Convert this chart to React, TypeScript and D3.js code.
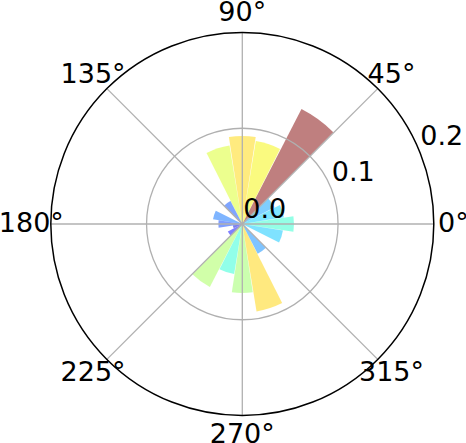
import React from "react";
import * as d3 from "d3";

// ---- data ----
const thetaDegrees = [0, 18, 36, 54, 72, 90, 108, 126, 144, 162, 180, 198, 216, 234, 252, 270, 288, 306, 324, 342];
const radii = [0.054, 0.044, 0.038, 0.135, 0.0877, 0.092, 0.083, 0.027, 0, 0.031, 0.025, 0.01, 0.017, 0.074, 0.053, 0.072, 0.0925, 0.035, 0, 0.043];
const barWidthDeg = 17.5;
const angleTicks = [0, 45, 90, 135, 180, 225, 270, 315];
const radialTicks = [0, 0.1, 0.2];
const radialMax = 0.2;

// matplotlib "jet" colormap
const jetData = {
  r: [[0, 0], [0.35, 0], [0.66, 1], [0.89, 1], [1, 0.5]],
  g: [[0, 0], [0.125, 0], [0.375, 1], [0.64, 1], [0.91, 0], [1, 0]],
  b: [[0, 0.5], [0.11, 1], [0.34, 1], [0.65, 0], [1, 0]],
};
function interpChannel(pts: number[][], t: number) {
  for (let i = 1; i < pts.length; i++) {
    if (t <= pts[i][0]) {
      const [x0, y0] = pts[i - 1];
      const [x1, y1] = pts[i];
      return y0 + ((t - x0) / (x1 - x0)) * (y1 - y0);
    }
  }
  return pts[pts.length - 1][1];
}
function jet(t: number) {
  const c = Math.max(0, Math.min(1, t));
  return d3.rgb(
    255 * interpChannel(jetData.r, c),
    255 * interpChannel(jetData.g, c),
    255 * interpChannel(jetData.b, c)
  ).formatHex();
}

const W = 466;
const H = 443;
const cx = 242.3;
const cy = 224;
const R = 191.5;
const FONT = "DejaVu Sans, sans-serif";
const FS = 27;

export default function App() {
  const rScale = d3.scaleLinear().domain([0, radialMax]).range([0, R]);
  const maxVal = d3.max(radii) as number;
  const toRad = (d: number) => (d * Math.PI) / 180;
  const arc = d3.arc<any>();
  const halfW = toRad(barWidthDeg) / 2;

  const bars = thetaDegrees.map((deg, i) => {
    const th = toRad(deg);
    const path = arc({
      innerRadius: 0,
      outerRadius: rScale(radii[i]),
      startAngle: Math.PI / 2 - (th + halfW),
      endAngle: Math.PI / 2 - (th - halfW),
    });
    return (
      <path key={"b" + i} d={path || ""} fill={jet(radii[i] / maxVal)} fillOpacity={0.5} transform={`translate(${cx},${cy})`} />
    );
  });

  const labelD = R + 19.5;
  const rlabAngle = toRad(22.5);

  return (
    <svg width={W} height={H} style={{ position: "absolute", left: 0, top: 0, background: "#fff" }}>
      {bars}
      {/* grid */}
      {angleTicks.map((a) => (
        <line
          key={"g" + a}
          x1={cx}
          y1={cy}
          x2={cx + R * Math.cos(toRad(a))}
          y2={cy - R * Math.sin(toRad(a))}
          stroke="#b0b0b0"
          strokeWidth={1.3}
        />
      ))}
      {radialTicks
        .filter((t) => t > 0 && t < radialMax)
        .map((t) => (
          <circle key={"c" + t} cx={cx} cy={cy} r={rScale(t)} fill="none" stroke="#b0b0b0" strokeWidth={1.3} />
        ))}
      <circle cx={cx} cy={cy} r={R} fill="none" stroke="#000" strokeWidth={1.5} />
      {angleTicks.map((a) => (
        <text
          key={"t" + a}
          x={cx + labelD * Math.cos(toRad(a))}
          y={cy - labelD * Math.sin(toRad(a)) - 1.5}
          textAnchor="middle"
          dominantBaseline="central"
          fontFamily={FONT}
          fontSize={FS}
          fill="#000"
        >
          {a}°
        </text>
      ))}
      {radialTicks.map((t) => (
        <text
          key={"r" + t}
          x={cx + rScale(t) * Math.cos(rlabAngle) + 1}
          y={cy - rScale(t) * Math.sin(rlabAngle) - 6}
          textAnchor="start"
          fontFamily={FONT}
          fontSize={FS}
          fill="#000"
        >
          {t.toFixed(1)}
        </text>
      ))}
    </svg>
  );
}
